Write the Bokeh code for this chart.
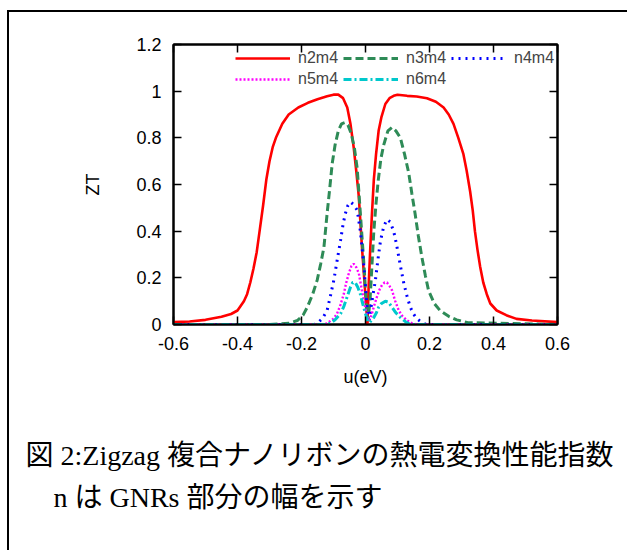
from bokeh.plotting import figure
from bokeh.models import Range1d, LinearAxis, FixedTicker, Legend, LegendItem, Title
from bokeh.embed import file_html
from bokeh.resources import INLINE

# ---------------- data ----------------
x_ticks = [-0.6, -0.4, -0.2, 0.0, 0.2, 0.4, 0.6]
x_tick_labels = ["-0.6", "-0.4", "-0.2", "0", "0.2", "0.4", "0.6"]
y_ticks = [0.0, 0.2, 0.4, 0.6, 0.8, 1.0, 1.2]
y_tick_labels = ["0", "0.2", "0.4", "0.6", "0.8", "1", "1.2"]

series_names = ["n2m4", "n3m4", "n4m4", "n5m4", "n6m4"]

u_n2m4 = [-0.6, -0.55, -0.5, -0.45, -0.42, -0.4, -0.38, -0.37, -0.36, -0.35, -0.34,
          -0.33, -0.32, -0.31, -0.3, -0.29, -0.28, -0.26, -0.24, -0.21, -0.18, -0.15,
          -0.12, -0.1, -0.085, -0.07, -0.057, -0.047, -0.037, -0.029, -0.021, -0.011,
          0.0, 0.006, 0.01, 0.015, 0.02, 0.026, 0.033, 0.041, 0.05, 0.062, 0.075,
          0.088, 0.1, 0.13, 0.16, 0.192, 0.22, 0.244, 0.26, 0.275, 0.29, 0.306,
          0.316, 0.327, 0.335, 0.342, 0.35, 0.358, 0.368, 0.379, 0.39, 0.41, 0.44,
          0.472, 0.52, 0.6]
zt_n2m4 = [0.01, 0.013, 0.02, 0.033, 0.045, 0.06, 0.1, 0.13, 0.18, 0.24, 0.31,
           0.41, 0.51, 0.62, 0.70, 0.76, 0.80, 0.86, 0.90, 0.93, 0.95, 0.965,
           0.978, 0.985, 0.985, 0.97, 0.93, 0.86, 0.76, 0.66, 0.55, 0.33,
           0.12, 0.0, 0.17, 0.33, 0.47, 0.62, 0.73, 0.83, 0.89, 0.945, 0.97,
           0.98, 0.985, 0.98, 0.977, 0.97, 0.955, 0.93, 0.90, 0.86, 0.80, 0.73,
           0.66, 0.57, 0.49, 0.40, 0.32, 0.25, 0.18, 0.13, 0.09, 0.06, 0.04,
           0.024, 0.017, 0.01]

u_n3m4 = [-0.6, -0.3, -0.24, -0.213, -0.195, -0.182, -0.165, -0.151, -0.14, -0.13,
          -0.12, -0.112, -0.104, -0.095, -0.085, -0.075, -0.065, -0.055, -0.045,
          -0.035, -0.026, -0.016, -0.005, 0.003, 0.008, 0.014, 0.02, 0.026, 0.033,
          0.04, 0.048, 0.057, 0.07, 0.083, 0.095, 0.109, 0.122, 0.135, 0.145, 0.155,
          0.165, 0.176, 0.187, 0.197, 0.215, 0.233, 0.26, 0.285, 0.32, 0.6]
zt_n3m4 = [0.0, 0.0, 0.005, 0.017, 0.04, 0.074, 0.13, 0.19, 0.26, 0.33,
           0.475, 0.58, 0.69, 0.77, 0.83, 0.86, 0.865, 0.855, 0.82,
           0.76, 0.67, 0.475, 0.26, 0.08, 0.02, 0.1, 0.25, 0.40, 0.52,
           0.62, 0.71, 0.77, 0.83, 0.845, 0.83, 0.80, 0.73, 0.65, 0.56, 0.475,
           0.38, 0.29, 0.21, 0.146, 0.09, 0.06, 0.035, 0.02, 0.008, 0.0]

u_n4m4 = [-0.6, -0.16, -0.151, -0.135, -0.12, -0.11, -0.099, -0.088, -0.078, -0.07,
          -0.063, -0.055, -0.047, -0.038, -0.026, -0.016, -0.005, 0.005, 0.012,
          0.018, 0.025, 0.031, 0.039, 0.047, 0.057, 0.067, 0.077, 0.088, 0.096,
          0.104, 0.112, 0.12, 0.13, 0.14, 0.15, 0.161, 0.175, 0.19, 0.6]
zt_n4m4 = [0.0, 0.0, 0.005, 0.025, 0.06, 0.12, 0.19, 0.28, 0.36, 0.43,
           0.475, 0.51, 0.525, 0.515, 0.49, 0.40, 0.25, 0.07, 0.02,
           0.08, 0.14, 0.19, 0.28, 0.36, 0.42, 0.45, 0.44, 0.40, 0.35,
           0.29, 0.23, 0.175, 0.12, 0.074, 0.045, 0.024, 0.01, 0.0, 0.0]

u_n5m4 = [-0.6, -0.13, -0.12, -0.1, -0.089, -0.078, -0.068, -0.06, -0.052, -0.044,
          -0.037, -0.029, -0.021, -0.013, -0.005, 0.003, 0.01, 0.015, 0.02, 0.028,
          0.036, 0.044, 0.052, 0.06, 0.067, 0.075, 0.083, 0.093, 0.104, 0.116,
          0.13, 0.145, 0.16, 0.6]
zt_n5m4 = [0.0, 0.0, 0.005, 0.025, 0.046, 0.085, 0.13, 0.18, 0.22, 0.25,
           0.26, 0.245, 0.22, 0.16, 0.10, 0.045, 0.017, 0.025, 0.046, 0.085,
           0.12, 0.15, 0.17, 0.18, 0.18, 0.165, 0.146, 0.10, 0.06, 0.035,
           0.017, 0.006, 0.0, 0.0]

u_n6m4 = [-0.6, -0.12, -0.11, -0.095, -0.078, -0.067, -0.057, -0.047, -0.04, -0.032,
          -0.024, -0.016, -0.008, 0.0, 0.008, 0.014, 0.02, 0.026, 0.034, 0.041,
          0.05, 0.062, 0.072, 0.083, 0.095, 0.109, 0.125, 0.14, 0.6]
zt_n6m4 = [0.0, 0.0, 0.005, 0.02, 0.046, 0.08, 0.12, 0.16, 0.18, 0.18,
           0.16, 0.13, 0.085, 0.046, 0.01, 0.01, 0.02, 0.03, 0.05, 0.074,
           0.09, 0.10, 0.095, 0.074, 0.05, 0.03, 0.012, 0.0, 0.0]

series_u = [u_n2m4, u_n3m4, u_n4m4, u_n5m4, u_n6m4]
series_zt = [zt_n2m4, zt_n3m4, zt_n4m4, zt_n5m4, zt_n6m4]

x_label = "u(eV)"
y_label = "ZT"
caption_lines = ["図 2:Zigzag 複合ナノリボンの熱電変換性能指数",
                 "\u3000n は GNRs 部分の幅を示す"]

# ---------------- styles ----------------
colors = ["#ff0000", "#2e8b57", "#0000ff", "#ff00ff", "#00c8cc"]
dashes = ["solid", "8 4", "2 5", "2 2", "8 3 2 3"]
widths = [2.6, 3.0, 3.0, 2.4, 3.0]

SANS = "'Liberation Sans', Arial, sans-serif"
SERIF = "'Liberation Serif', 'Noto Sans CJK JP', serif"

p = figure(width=620, height=540, output_backend="svg", toolbar_location=None,
           x_range=Range1d(-0.6, 0.6), y_range=Range1d(0, 1.2),
           min_border_left=164, min_border_right=72, min_border_top=32,
           min_border_bottom=228)
p.margin = (10, 0, 0, 7)
p.styles = {"border-left": "2px solid black", "border-top": "2px solid black"}
p.background_fill_color = "white"
p.border_fill_color = "white"
p.grid.visible = False
p.outline_line_color = "black"
p.outline_line_width = 2

x_over = {v: s for v, s in zip(x_ticks, x_tick_labels)}
y_over = {v: s for v, s in zip(y_ticks, y_tick_labels)}
x_blank = {v: "" for v in x_ticks}
y_blank = {v: "" for v in y_ticks}

def style_axis(ax, ticks, over):
    ax.ticker = FixedTicker(ticks=ticks)
    ax.major_label_overrides = over
    ax.minor_tick_line_color = None
    ax.major_tick_in = 8
    ax.major_tick_out = 0
    ax.major_tick_line_color = "black"
    ax.major_tick_line_width = 1.5
    ax.axis_line_color = "black"
    ax.axis_line_width = 2
    ax.major_label_text_font = SANS
    ax.major_label_text_color = "black"
    ax.major_label_text_font_size = "18px"
    ax.axis_label_text_font = SANS
    ax.axis_label_text_font_size = "18px"
    ax.axis_label_text_font_style = "normal"
    ax.axis_label_text_color = "black"

style_axis(p.xaxis[0], x_ticks, x_over)
style_axis(p.yaxis[0], y_ticks, y_over)
p.xaxis[0].axis_label = x_label
p.yaxis[0].axis_label = y_label
p.xaxis[0].major_label_standoff = 12
p.yaxis[0].major_label_standoff = 12
p.xaxis[0].axis_label_standoff = 14
p.yaxis[0].axis_label_standoff = 30

top_ax = LinearAxis()
right_ax = LinearAxis()
style_axis(top_ax, x_ticks, x_blank)
style_axis(right_ax, y_ticks, y_blank)
top_ax.major_label_standoff = 0
right_ax.major_label_standoff = 0
p.add_layout(top_ax, "above")
p.add_layout(right_ax, "right")

# invisible spacer between the x axis and the caption (hidden tick, no line)
spacer = LinearAxis(ticker=FixedTicker(ticks=[0.0]), major_tick_out=48, major_tick_in=0,
                    axis_line_color=None, major_tick_line_color=None,
                    minor_tick_line_color=None, minor_tick_out=0,
                    major_label_overrides={0.0: ""}, major_label_standoff=0,
                    major_label_text_font_size="2px")
p.add_layout(spacer, "below")

items = []
for name, u, zt, c, d, w in zip(series_names, series_u, series_zt, colors, dashes, widths):
    r = p.line(u, zt, line_color=c, line_width=w, line_dash=d)
    items.append(LegendItem(label=name, renderers=[r]))

legend = Legend(items=items, orientation="horizontal", ncols=3,
                location=(62, 236), padding=0, spacing=3, margin=0,
                glyph_width=55, glyph_height=18, label_height=18, label_width=42,
                label_standoff=8, label_text_font=SANS, label_text_font_size="16px",
                border_line_color=None, background_fill_alpha=0)
p.add_layout(legend, "center")

# ---------------- caption (one two-line title under the x axis) ----------------
cap = Title(text="\n".join(caption_lines), align="left", vertical_align="top",
            offset=-148, standoff=4, text_font=SERIF, text_font_size="28px",
            text_font_style="normal", text_color="black", text_line_height=1.366)
p.add_layout(cap, "below")

open("out.html", "w").write(file_html(p, INLINE))
